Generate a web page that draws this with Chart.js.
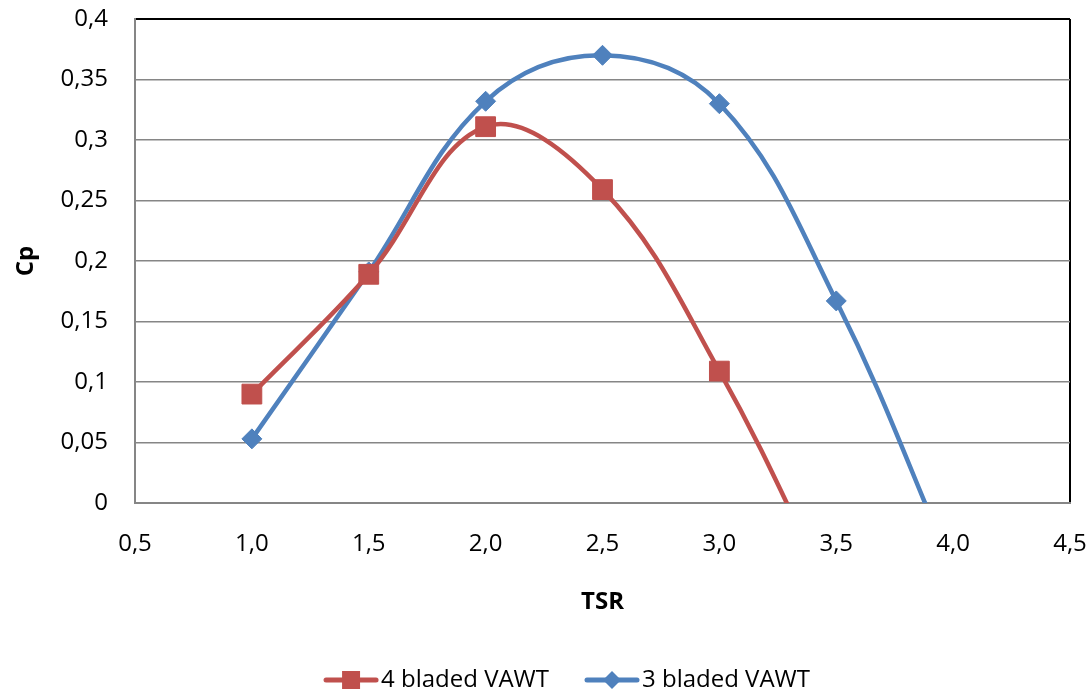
<!DOCTYPE html>
<html>
<head>
<meta charset="utf-8">
<script src="https://cdn.jsdelivr.net/npm/chart.js@4"></script>
<style>
  body { margin: 0; background: #fff; }
</style>
</head>
<body>
<canvas id="chart" width="1089" height="693"></canvas>
<script>
// Cp vs TSR for the two rotors (last point of each goes below 0 and is clipped)
const tsr4 = [1.0, 1.5, 2.0, 2.5, 3.0, 3.5];
const cp4 = [0.090, 0.189, 0.311, 0.259, 0.109, -0.085];
const tsr3 = [1.0, 1.5, 2.0, 2.5, 3.0, 3.5, 4.0];
const cp3 = [0.053, 0.191, 0.332, 0.370, 0.330, 0.167, -0.055];
const seriesNames = ['4 bladed VAWT', '3 bladed VAWT'];

const RED = '#C0504D';
const BLUE = '#4F81BD';
const GRID = '#868686';
const FONT = "'Open Sans', sans-serif";

Chart.defaults.color = '#000';
Chart.defaults.font.family = FONT;

// legend icons: line with the marker on it
const BOXW = 75;
function legendIcon(color, shape) {
    const c = document.createElement('canvas');
    c.width = BOXW + 20;
    c.height = 24;
    const g = c.getContext('2d');
    const x0 = c.width - 56, cx = c.width - 28, cy = 12;
    g.strokeStyle = color;
    g.lineWidth = 5;
    g.lineCap = 'round';
    g.beginPath();
    g.moveTo(x0 + 3, cy);
    g.lineTo(c.width - 3, cy);
    g.stroke();
    g.fillStyle = color;
    if (shape === 'square') {
        g.fillRect(cx - 9, cy - 9, 18, 18);
    } else {
        g.beginPath();
        g.moveTo(cx - 9, cy);
        g.lineTo(cx, cy - 9);
        g.lineTo(cx + 9, cy);
        g.lineTo(cx, cy + 9);
        g.closePath();
        g.fill();
    }
    return c;
}
const icons = [legendIcon(RED, 'square'), legendIcon(BLUE, 'diamond')];

const toXY = (xs, ys) => xs.map((x, i) => ({x: x, y: ys[i]}));

const ctx = document.getElementById('chart').getContext('2d');

const chart = new Chart(ctx, {
    type: 'line',
    data: {
        datasets: [{
            label: seriesNames[0],
            data: toXY(tsr4, cp4),
            borderColor: RED,
            backgroundColor: RED,
            borderWidth: 4.5,
            pointStyle: 'rect',
            pointRadius: 14,
            pointBorderWidth: 1,
            tension: 0.38,
            clip: 0,
        }, {
            label: seriesNames[1],
            data: toXY(tsr3, cp3),
            borderColor: BLUE,
            backgroundColor: BLUE,
            borderWidth: 4.5,
            pointStyle: 'rectRot',
            pointRadius: 10,
            pointBorderWidth: 1,
            tension: 0.38,
            clip: 0,
        }]
    },
    options: {
        responsive: false,
        animation: false,
        devicePixelRatio: 1,
        elements: {
            line: { capBezierPoints: false },
        },
        layout: {
            padding: { left: 34, right: 19, top: 19, bottom: -9 },
        },
        plugins: {
            tooltip: { enabled: false },
            legend: {
                position: 'bottom',
                labels: {
                    usePointStyle: true,
                    pointStyleWidth: BOXW,
                    padding: 6,
                    font: { size: 24, family: FONT },
                    generateLabels: chart => chart.data.datasets.map((ds, i) => ({
                        text: ds.label,
                        pointStyle: icons[i],
                        fillStyle: ds.borderColor,
                        strokeStyle: ds.borderColor,
                        lineWidth: 0,
                        hidden: false,
                        datasetIndex: i,
                        fontColor: '#000',
                    })),
                },
            },
        },
        scales: {
            x: {
                type: 'linear',
                min: 0.5,
                max: 4.5,
                ticks: {
                    stepSize: 0.5,
                    padding: 27,
                    font: { size: 24 },
                    callback: v => v.toFixed(1).replace('.', ','),
                },
                grid: {
                    drawTicks: false,
                    lineWidth: 2,
                    color: c => Math.abs(c.tick.value - 4.5) < 1e-6 ? '#000' : 'rgba(0,0,0,0)',
                },
                border: { color: GRID, width: 2 },
                title: {
                    display: true,
                    text: 'TSR',
                    font: { size: 24, weight: 'bold' },
                    padding: { top: 0, bottom: 45 },
                },
                afterFit: s => {
                    s.height = 159;
                    s.paddingLeft = 0;
                    s.paddingRight = 0;
                },
            },
            y: {
                min: 0,
                max: 0.4,
                ticks: {
                    stepSize: 0.05,
                    padding: 27,
                    font: { size: 24 },
                    callback: v => String(+v.toFixed(2)).replace('.', ','),
                },
                grid: {
                    drawTicks: false,
                    lineWidth: c => Math.abs(c.tick.value - 0.4) < 1e-6 ? 2 : 1.5,
                    color: c => Math.abs(c.tick.value - 0.4) < 1e-6 ? '#000' : GRID,
                },
                border: { color: GRID, width: 2 },
                title: {
                    display: true,
                    text: 'Cp',
                    font: { size: 24, weight: 'bold' },
                    padding: { top: -22, bottom: 0 },
                },
                afterFit: s => {
                    s.width = 101;
                    s.paddingTop = 0;
                    s.paddingBottom = 0;
                },
            },
        },
    },
});
</script>
</body>
</html>
